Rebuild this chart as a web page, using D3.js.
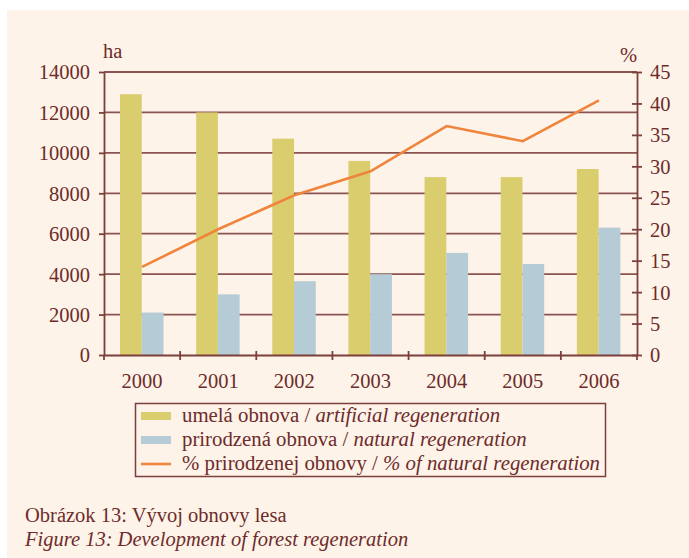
<!DOCTYPE html>
<html>
<head>
<meta charset="utf-8">
<script src="https://cdn.jsdelivr.net/npm/d3@7"></script>
<style>
  body { margin: 0; background: #ffffff; }
  svg { display: block; }
  text { font-family: "Liberation Serif", "DejaVu Serif", serif; fill: #6e2b2b; }
</style>
</head>
<body>
<svg id="chart" width="689" height="558"></svg>
<script>
// data
var years = ["2000", "2001", "2002", "2003", "2004", "2005", "2006"];
var artificial = [12900, 12000, 10700, 9600, 8800, 8800, 9200];   // ha
var natural = [2100, 3000, 3650, 4000, 5050, 4500, 6300];         // ha
var naturalPct = [14, 20, 25.4, 29.2, 36.4, 34, 40.5];             // %
var leftTicks = [0, 2000, 4000, 6000, 8000, 10000, 12000, 14000];
var rightTicks = [0, 5, 10, 15, 20, 25, 30, 35, 40, 45];

var colors = { artificial: "#dacd6e", natural: "#b5cbd5", line: "#ef843d", axis: "#7d3f3c", grid: "#8a5550" };

var svg = d3.select("#chart");

// cream panel
svg.append("rect").attr("x", 7).attr("y", 10).attr("width", 682).attr("height", 548).attr("fill", "#fdf3e8");

var plot = { left: 104, right: 637, top: 72, bottom: 355 };

var x = d3.scaleBand().domain(years).range([plot.left, plot.right]);
var x1 = d3.scaleBand().domain(["a", "n"]).range([16, 59.5]);
var yL = d3.scaleLinear().domain([0, 14000]).range([plot.bottom, plot.top]);
var yR = d3.scaleLinear().domain([0, 45]).range([plot.bottom, plot.top]);

// grid lines
svg.append("g").selectAll("line")
  .data(leftTicks.slice(1))
  .enter().append("line")
  .attr("x1", plot.left).attr("x2", plot.right)
  .attr("y1", function(d) { return yL(d); }).attr("y2", function(d) { return yL(d); })
  .attr("stroke", colors.grid).attr("stroke-width", 1.8);

// bars
var groups = svg.append("g").selectAll("g")
  .data(years)
  .enter().append("g")
  .attr("transform", function(d) { return "translate(" + x(d) + ",0)"; });

groups.append("rect")
  .attr("x", x1("a")).attr("width", x1.bandwidth())
  .attr("y", function(d, i) { return yL(artificial[i]); })
  .attr("height", function(d, i) { return plot.bottom - yL(artificial[i]); })
  .attr("fill", colors.artificial);

groups.append("rect")
  .attr("x", x1("n")).attr("width", x1.bandwidth())
  .attr("y", function(d, i) { return yL(natural[i]); })
  .attr("height", function(d, i) { return plot.bottom - yL(natural[i]); })
  .attr("fill", colors.natural);

// percentage line
var line = d3.line()
  .x(function(d, i) { return x(years[i]) + x.bandwidth() / 2; })
  .y(function(d) { return yR(d); });

svg.append("path")
  .datum(naturalPct)
  .attr("d", line)
  .attr("fill", "none")
  .attr("stroke", colors.line)
  .attr("stroke-width", 2.6);

// axes
function styleAxis(g) {
  g.attr("font-family", null);
  g.select(".domain").attr("stroke", colors.axis).attr("stroke-width", 1.8);
  g.selectAll(".tick line").attr("stroke", colors.axis).attr("stroke-width", 1.8);
  g.selectAll(".tick text").style("font-size", "20.5px").attr("fill", "#6e2b2b")
    .style("font-family", "'Liberation Serif', serif");
}

var leftAxis = svg.append("g")
  .attr("transform", "translate(" + plot.left + ",0)")
  .call(d3.axisLeft(yL).tickValues(leftTicks).tickSize(5).tickSizeOuter(0).tickPadding(9).tickFormat(d3.format("d")))
  .call(styleAxis);
leftAxis.selectAll(".tick text").attr("dy", "0.34em");

var rightAxis = svg.append("g")
  .attr("transform", "translate(" + plot.right + ",0)")
  .call(d3.axisRight(yR).tickValues(rightTicks).tickSize(5).tickSizeOuter(0).tickPadding(8))
  .call(styleAxis);
rightAxis.selectAll(".tick line").attr("x1", -5);
rightAxis.selectAll(".tick text").attr("dy", "0.34em");

// x axis: ticks at band boundaries, labels at band centres
var bottom = svg.append("g")
  .attr("transform", "translate(0," + plot.bottom + ")")
  .call(d3.axisBottom(x).tickSize(0).tickSizeOuter(0).tickPadding(18))
  .call(styleAxis);
bottom.selectAll(".tick text").attr("dy", "0.71em");
bottom.append("g").selectAll("line")
  .data(years.slice(1))
  .enter().append("line")
  .attr("x1", function(d) { return x(d); }).attr("x2", function(d) { return x(d); })
  .attr("y1", -4).attr("y2", 5)
  .attr("stroke", colors.axis).attr("stroke-width", 1.8);
bottom.append("line")
  .attr("x1", plot.left).attr("x2", plot.left).attr("y1", 0).attr("y2", 5)
  .attr("stroke", colors.axis).attr("stroke-width", 1.8);
bottom.append("line")
  .attr("x1", plot.right).attr("x2", plot.right).attr("y1", 0).attr("y2", 5)
  .attr("stroke", colors.axis).attr("stroke-width", 1.8);

// unit labels
svg.append("text").attr("x", 103).attr("y", 58).style("font-size", "20.5px").text("ha");
svg.append("text").attr("x", 637).attr("y", 62).attr("text-anchor", "end").style("font-size", "20.5px").text("%");

// legend
var legend = svg.append("g");
legend.append("rect")
  .attr("x", 135.5).attr("y", 403.5).attr("width", 470).attr("height", 73)
  .attr("fill", "none").attr("stroke", colors.axis).attr("stroke-width", 1.5);

var legendItems = [
  { type: "rect", color: colors.artificial, sk: "umelá obnova / ", en: "artificial regeneration" },
  { type: "rect", color: colors.natural, sk: "prirodzená obnova / ", en: "natural regeneration" },
  { type: "line", color: colors.line, sk: "% prirodzenej obnovy / ", en: "% of natural regeneration" }
];

var rows = legend.selectAll("g.row")
  .data(legendItems)
  .enter().append("g")
  .attr("class", "row")
  .attr("transform", function(d, i) { return "translate(141," + (416 + i * 24) + ")"; });

rows.filter(function(d) { return d.type === "rect"; }).append("rect")
  .attr("x", 0).attr("y", -4).attr("width", 30).attr("height", 8)
  .attr("fill", function(d) { return d.color; });
rows.filter(function(d) { return d.type === "line"; }).append("line")
  .attr("x1", 0).attr("x2", 30).attr("y1", 0).attr("y2", 0)
  .attr("stroke", function(d) { return d.color; }).attr("stroke-width", 2.6);

var lt = rows.append("text").attr("x", 41).attr("y", 6).style("font-size", "20.8px");
lt.append("tspan").text(function(d) { return d.sk; });
lt.append("tspan").style("font-style", "italic").text(function(d) { return d.en; });

// caption
svg.append("text").attr("x", 25).attr("y", 522).style("font-size", "20.5px").text("Obrázok 13: Vývoj obnovy lesa");
svg.append("text").attr("x", 25).attr("y", 546).style("font-size", "20.5px").style("font-style", "italic")
  .text("Figure 13: Development of  forest regeneration");
</script>
</body>
</html>
